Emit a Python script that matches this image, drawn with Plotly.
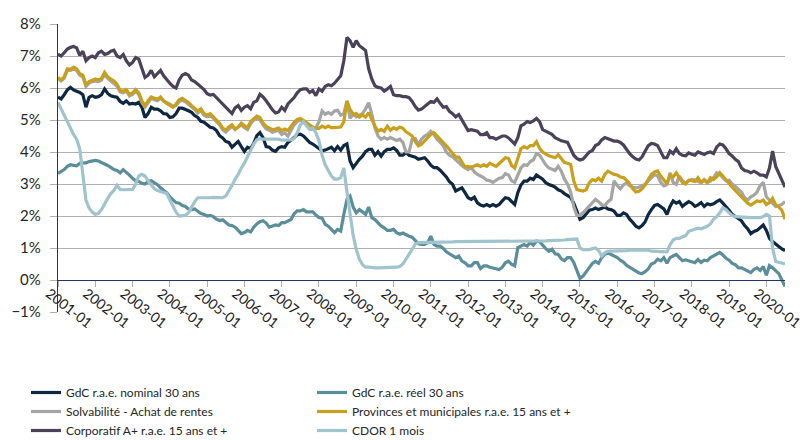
import plotly.graph_objects as go
import pandas as pd

# Monthly categories 2001-01 .. 2020-07
months = pd.date_range("2001-01-01", periods=235, freq="MS").strftime("%Y-%m").tolist()
tick_labels = ["2001-01", "2002-01", "2003-01", "2004-01", "2005-01", "2006-01", "2007-01",
               "2008-01", "2009-01", "2010-01", "2011-01", "2012-01", "2013-01", "2014-01",
               "2015-01", "2016-01", "2017-01", "2018-01", "2019-01", "2020-01"]

gdc_nominal_30 = [
    5.71, 5.66, 5.79, 5.94, 6.02, 5.94, 5.9, 5.86, 5.79, 5.4, 5.71, 5.76,
    5.71, 5.73, 5.79, 5.97, 5.83, 5.76, 5.73, 5.71, 5.58, 5.52, 5.6, 5.5,
    5.52, 5.5, 5.55, 5.4, 5.08, 5.2, 5.4, 5.34, 5.34, 5.29, 5.2, 5.19,
    5.08, 5.1, 5.2, 5.37, 5.37, 5.34, 5.29, 5.24, 5.14, 5.08, 4.96, 4.93,
    4.85, 4.77, 4.75, 4.67, 4.51, 4.44, 4.33, 4.3, 4.15, 4.25, 4.33, 4.17,
    4.02, 4.15, 4.1, 4.27, 4.51, 4.61, 4.45, 4.17, 4.15, 4.06, 4.02, 4.13,
    4.17, 4.15, 4.3, 4.37, 4.45, 4.54, 4.56, 4.5, 4.4, 4.3, 4.25, 4.17,
    4.1, 4.04, 4.06, 4.1, 4.15, 4.04, 4.17, 4.06, 4.2, 4.25, 3.72, 3.51,
    3.66, 3.77, 3.87, 4.01, 4.08, 4.08, 3.9, 4.01, 3.87, 4.01, 4.08, 4.08,
    4.13, 4.05, 3.9, 3.9, 3.98, 3.9, 3.87, 3.84, 3.77, 3.8, 3.82, 3.72,
    3.59, 3.51, 3.51, 3.43, 3.32, 3.22, 3.07, 2.99, 2.78, 2.83, 2.88, 2.73,
    2.57, 2.52, 2.59, 2.41, 2.34, 2.31, 2.36, 2.31, 2.36, 2.31, 2.36, 2.47,
    2.57, 2.55, 2.45, 2.36, 2.73, 2.97, 3.09, 3.09, 3.18, 3.14, 3.28, 3.22,
    3.15, 3.04, 2.98, 2.95, 2.9, 2.82, 2.78, 2.7, 2.65, 2.58, 2.4, 2.15,
    1.9, 1.95, 2.05, 2.18, 2.2, 2.25, 2.2, 2.25, 2.28, 2.22, 2.2, 2.15,
    2.02, 2.02, 2.1, 2.05, 1.9, 1.8, 1.68, 1.63, 1.7, 1.82, 2.05, 2.2,
    2.33, 2.36, 2.3, 2.22, 2.05, 2.3, 2.47, 2.4, 2.45, 2.3, 2.38, 2.45,
    2.4, 2.3, 2.35, 2.42, 2.3, 2.38, 2.35, 2.38, 2.45, 2.5, 2.4, 2.3,
    2.18, 2.05, 1.98, 1.9, 1.85, 1.7, 1.6, 1.45, 1.52, 1.55, 1.62, 1.72,
    1.55, 1.3, 1.2, 1.12, 1.05, 0.97, 0.92]

gdc_reel_30 = [
    3.33, 3.38, 3.45, 3.55, 3.6, 3.58, 3.57, 3.65, 3.66, 3.66, 3.7, 3.72,
    3.74, 3.72, 3.68, 3.62, 3.58, 3.52, 3.45, 3.42, 3.35, 3.45, 3.38, 3.28,
    3.18, 3.1, 3.08, 3.02, 3.0, 3.08, 3.1, 3.05, 2.98, 2.88, 2.8, 2.72,
    2.6, 2.5, 2.42, 2.4, 2.33, 2.3, 2.22, 2.2, 2.22, 2.15, 2.08, 2.05,
    2.0, 2.02, 1.98, 1.9, 1.86, 1.88, 1.8, 1.72, 1.7, 1.65, 1.55, 1.45,
    1.48, 1.55, 1.5, 1.65, 1.75, 1.82, 1.85, 1.78, 1.65, 1.68, 1.72, 1.7,
    1.79, 1.79, 1.84, 1.89, 2.07, 2.16, 2.16, 2.2, 2.13, 2.13, 2.13, 2.03,
    1.95, 1.93, 1.74, 1.68, 1.58, 1.48, 1.58, 1.53, 2.05, 2.52, 2.62, 2.28,
    2.1, 2.2, 2.13, 2.05, 2.28, 1.95, 1.89, 1.79, 1.69, 1.63, 1.55, 1.55,
    1.58, 1.48, 1.43, 1.47, 1.41, 1.37, 1.34, 1.22, 1.13, 1.11, 1.11, 1.17,
    1.37, 1.11, 1.06, 1.06, 0.99, 0.88, 0.82, 0.74, 0.7, 0.75, 0.59, 0.54,
    0.44, 0.44, 0.54, 0.54, 0.36, 0.44, 0.44, 0.4, 0.38, 0.36, 0.33, 0.4,
    0.54, 0.59, 0.49, 0.44, 1.01, 1.06, 1.11, 1.06, 1.17, 1.09, 1.22, 1.2,
    1.08, 0.98, 0.9, 0.96, 0.82, 0.8, 0.66, 0.6, 0.7, 0.7, 0.55, 0.3,
    0.05, 0.12, 0.25, 0.4, 0.52, 0.58, 0.52, 0.7, 0.8, 0.85, 0.8, 0.76,
    0.7, 0.62, 0.56, 0.46, 0.4, 0.35, 0.3, 0.22, 0.2, 0.26, 0.35, 0.5,
    0.54, 0.65, 0.6, 0.7, 0.52, 0.7, 0.75, 0.8, 0.7, 0.6, 0.63, 0.6,
    0.56, 0.54, 0.64, 0.55, 0.62, 0.6, 0.7, 0.75, 0.8, 0.86, 0.78, 0.68,
    0.62, 0.52, 0.48, 0.38, 0.38, 0.33, 0.28, 0.23, 0.33, 0.38, 0.3, 0.42,
    0.15, 0.45, 0.38, 0.28, 0.2, 0.0, -0.2]

solvabilite = [
    6.3, 6.22, 6.3, 6.55, 6.55, 6.6, 6.55, 6.4, 6.35, 6.05, 6.15, 6.2,
    6.22, 6.2, 6.25, 6.42, 6.3, 6.22, 6.15, 6.05, 5.88, 5.85, 5.9, 5.75,
    5.8, 5.9, 5.8, 5.55, 5.4, 5.55, 5.68, 5.63, 5.6, 5.68, 5.58, 5.55,
    5.5, 5.42, 5.45, 5.58, 5.62, 5.57, 5.5, 5.4, 5.33, 5.22, 5.3, 5.15,
    5.1, 5.15, 5.05, 4.95, 4.85, 4.7, 4.62, 4.72, 4.8, 4.7, 4.78, 4.85,
    4.76, 4.7, 4.88, 5.0, 5.05, 5.02, 4.85, 4.72, 4.68, 4.62, 4.65, 4.68,
    4.55, 4.6, 4.5, 4.68, 4.85, 4.95, 5.0, 4.95, 4.85, 4.8, 4.72, 4.75,
    4.95, 5.28, 5.18, 5.23, 5.18, 5.28, 5.3, 5.15, 5.2, 5.6, 5.05, 5.18,
    5.1, 5.15, 5.2, 5.35, 5.54, 5.18, 4.76, 4.5, 4.4, 4.45, 4.4, 4.45,
    4.4, 4.36, 4.4, 4.3, 4.0, 4.0, 4.4, 4.42, 4.24, 4.4, 4.5, 4.55,
    4.65, 4.55, 4.4, 4.3, 4.2, 4.0, 3.9, 3.85, 3.75, 3.68, 3.58, 3.5,
    3.45, 3.52, 3.38, 3.3, 3.25, 3.2, 3.12, 3.1, 3.05, 3.12, 3.18, 3.2,
    3.32, 3.28, 3.1, 3.05, 3.25, 3.5, 3.6, 3.58, 3.7, 3.75, 3.95, 3.9,
    3.75, 3.6, 3.5, 3.46, 3.42, 3.55, 3.4, 3.15, 3.0, 2.75, 2.3, 2.02,
    2.02, 2.1, 2.2, 2.3, 2.42, 2.52, 2.45, 2.35, 2.32, 2.45, 2.52, 3.1,
    2.95, 2.85, 2.97, 3.03, 2.95, 2.9, 2.88, 2.9, 2.95, 2.99, 3.1, 3.2,
    3.3, 3.25, 3.05, 2.94, 2.98, 3.35, 3.05, 2.99, 3.25, 3.1, 3.02, 3.1,
    3.14, 3.12, 3.09, 3.04, 3.14, 3.06, 3.09, 3.2, 3.35, 3.3, 3.2, 3.1,
    3.12, 3.0, 2.92, 2.82, 2.75, 2.57, 2.5, 2.6, 2.65, 2.75, 2.95, 3.05,
    2.6, 2.5, 2.4, 2.3, 2.32, 2.36, 2.45]

provinces_15 = [
    6.33, 6.25, 6.35, 6.6, 6.58, 6.65, 6.6, 6.45, 6.4, 6.1, 6.2, 6.25,
    6.28, 6.25, 6.3, 6.49, 6.35, 6.28, 6.22, 6.12, 5.92, 5.9, 5.95, 5.8,
    5.85, 5.95, 5.85, 5.6, 5.45, 5.6, 5.72, 5.68, 5.65, 5.72, 5.6, 5.52,
    5.45, 5.4, 5.5, 5.63, 5.68, 5.62, 5.55, 5.45, 5.38, 5.28, 5.35, 5.2,
    5.15, 5.2, 5.1, 5.0, 4.9, 4.75, 4.68, 4.78, 4.85, 4.72, 4.78, 4.9,
    4.82, 4.75, 4.95, 5.05, 5.12, 5.08, 4.9, 4.8, 4.75, 4.7, 4.72, 4.75,
    4.67, 4.72, 4.67, 4.82, 4.93, 5.02, 5.05, 4.99, 4.91, 4.84, 4.78, 4.74,
    4.74, 4.81, 4.76, 4.81, 4.76, 4.76, 4.76, 4.78, 4.95, 5.59, 5.33, 5.18,
    5.2, 5.09, 5.16, 5.09, 5.23, 4.99, 4.81, 4.65, 4.71, 4.65, 4.81, 4.68,
    4.76, 4.71, 4.78, 4.74, 4.63, 4.57, 4.5, 4.32, 4.19, 4.24, 4.34, 4.45,
    4.55, 4.6, 4.5, 4.4, 4.32, 4.19, 4.08, 3.95, 3.84, 3.84, 3.7, 3.53,
    3.55, 3.52, 3.56, 3.6, 3.55, 3.6, 3.55, 3.65, 3.6, 3.55, 3.64, 3.72,
    3.82, 3.8, 3.58, 3.5, 3.78, 4.1, 4.17, 4.12, 4.2, 4.2, 4.32, 4.12,
    4.0, 3.93, 3.88, 3.85, 3.82, 3.92, 3.8, 3.67, 3.65, 3.61, 3.1, 2.83,
    2.8, 2.78, 2.82, 3.04, 3.14, 3.1, 3.18, 3.09, 3.3, 3.4, 3.35, 3.3,
    3.28, 3.22, 3.2, 3.12, 3.0, 2.85, 2.75, 2.77, 2.85, 2.97, 3.15, 3.3,
    3.38, 3.41, 3.25, 3.12, 3.0, 3.28, 3.22, 3.35, 3.2, 3.05, 3.0, 3.12,
    3.1, 3.08, 3.2, 3.05, 3.12, 3.04, 3.2, 3.14, 3.22, 3.35, 3.25, 3.12,
    3.02, 2.9, 2.8, 2.7, 2.6, 2.5, 2.4, 2.34, 2.42, 2.47, 2.45, 2.5,
    2.36, 2.42, 2.55, 2.35, 2.28, 2.18, 1.9]

corporatif_a_plus = [
    7.06, 7.0, 7.1, 7.22, 7.27, 7.3, 7.25, 7.02, 7.15, 6.85, 6.95, 7.0,
    6.95, 7.1, 7.15, 7.05, 7.08, 7.15, 7.18, 7.0, 6.95, 7.05, 6.85, 6.72,
    6.8, 6.95, 6.9, 6.6, 6.33, 6.4, 6.55, 6.35, 6.45, 6.55, 6.38, 6.25,
    6.15, 6.05, 6.0, 6.25, 6.4, 6.45, 6.4, 6.25, 6.2, 6.12, 6.05, 5.95,
    5.82, 5.78, 5.8, 5.7, 5.62, 5.5, 5.4, 5.3, 5.2, 5.38, 5.45, 5.3,
    5.4, 5.45, 5.35, 5.55, 5.6, 5.8, 5.72, 5.6, 5.45, 5.32, 5.22, 5.25,
    5.4, 5.3, 5.5, 5.6, 5.7, 5.85, 5.95, 5.97, 5.97, 5.86, 5.92, 5.76,
    5.97, 5.9, 6.05, 6.1, 6.07, 6.15, 6.25, 6.38, 6.85, 7.58, 7.48, 7.27,
    7.48, 7.32, 7.25, 7.17, 6.6, 6.28, 6.07, 6.02, 6.0, 5.9, 5.97, 6.05,
    5.79, 5.76, 5.76, 5.73, 5.73, 5.7, 5.58, 5.42, 5.31, 5.34, 5.42, 5.5,
    5.58, 5.55, 5.66, 5.52, 5.4, 5.42, 5.27, 5.2, 5.1, 5.17, 5.0, 4.79,
    4.67, 4.7, 4.67, 4.65, 4.54, 4.54, 4.6, 4.45, 4.45, 4.4, 4.45, 4.5,
    4.5, 4.44, 4.35, 4.25, 4.45, 4.82, 4.87, 4.95, 4.92, 4.97, 5.05, 4.95,
    4.7, 4.65, 4.6, 4.55, 4.45, 4.4, 4.35, 4.33, 4.3, 4.1, 3.9, 3.8,
    3.75, 3.78, 3.9, 4.0, 4.05, 4.2, 4.25, 4.38, 4.45, 4.42, 4.38, 4.34,
    4.34, 4.3, 4.22, 4.08, 3.95, 3.85, 3.78, 3.75, 3.85, 4.03, 4.2, 4.27,
    4.25, 4.2, 4.03, 3.82, 3.82, 4.03, 3.95, 4.1, 3.95, 3.9, 3.88, 3.97,
    3.93, 3.9, 4.0, 3.95, 3.92, 3.98, 4.0, 3.95, 4.15, 4.25, 4.22, 4.1,
    3.95, 3.88, 3.77, 3.7, 3.5, 3.42, 3.4, 3.35, 3.4, 3.35, 3.28, 3.28,
    3.22, 3.5, 4.03, 3.55, 3.35, 3.12, 2.9]

cdor_1m = [
    5.55, 5.35, 5.15, 4.95, 4.7, 4.55, 4.4, 4.1, 3.3, 2.5, 2.25, 2.12,
    2.05, 2.08, 2.2, 2.4, 2.55, 2.7, 2.8, 2.96, 2.83, 2.82, 2.82, 2.82,
    2.83, 3.0, 3.25, 3.3, 3.25, 3.1, 2.98, 2.85, 2.8, 2.76, 2.74, 2.7,
    2.5, 2.3, 2.12, 2.0, 2.0, 2.02, 2.1, 2.3, 2.45, 2.57, 2.57, 2.56,
    2.55, 2.57, 2.58, 2.57, 2.56, 2.57, 2.62, 2.78, 2.95, 3.15, 3.3, 3.5,
    3.65, 3.85, 4.05, 4.25, 4.38, 4.42, 4.4, 4.4, 4.39, 4.4, 4.4, 4.4,
    4.37, 4.37, 4.37, 4.38, 4.42, 4.6, 4.85, 4.95, 4.82, 4.7, 4.75, 4.6,
    4.35, 3.9, 3.6, 3.4, 3.25, 3.15, 3.15, 3.2, 3.5, 2.75, 2.0, 1.4,
    0.95, 0.65, 0.48, 0.4, 0.4, 0.38, 0.38, 0.38, 0.38, 0.38, 0.4, 0.4,
    0.4, 0.4, 0.42, 0.5, 0.65, 0.82, 0.98, 1.12, 1.17, 1.17, 1.17, 1.18,
    1.18, 1.18, 1.18, 1.19, 1.19, 1.19, 1.19, 1.19, 1.2, 1.2, 1.2, 1.2,
    1.2, 1.2, 1.2, 1.2, 1.2, 1.2, 1.2, 1.2, 1.21, 1.21, 1.21, 1.21,
    1.21, 1.21, 1.21, 1.21, 1.21, 1.21, 1.21, 1.21, 1.22, 1.22, 1.22, 1.22,
    1.22, 1.22, 1.23, 1.23, 1.24, 1.24, 1.25, 1.25, 1.26, 1.27, 1.28, 1.28,
    1.0, 0.95, 0.95, 0.95, 0.98, 1.0, 0.92, 0.75, 0.85, 0.9, 0.9, 0.9,
    0.9, 0.9, 0.92, 0.92, 0.93, 0.93, 0.92, 0.93, 0.93, 0.93, 0.93, 0.9,
    0.9, 0.9, 0.9, 0.88, 0.88, 1.1, 1.25, 1.3, 1.3, 1.35, 1.38, 1.52,
    1.55, 1.6, 1.62, 1.6, 1.63, 1.68, 1.75, 1.9, 1.98, 2.1, 2.26, 2.2,
    2.1, 2.02, 1.98, 1.97, 1.96, 1.95, 1.95, 1.95, 1.95, 1.95, 1.95, 1.98,
    2.05, 2.0, 1.0, 0.58, 0.55, 0.52, 0.5]

series_names = ["GdC r.a.e. nominal 30 ans", "GdC r.a.e. réel 30 ans",
                "Solvabilité - Achat de rentes", "Provinces et municipales r.a.e. 15 ans et +",
                "Corporatif A+ r.a.e. 15 ans et +", "CDOR 1 mois"]
series_values = [gdc_nominal_30, gdc_reel_30, solvabilite, provinces_15, corporatif_a_plus, cdor_1m]
series_colors = ["#0E2841", "#5A8E9A", "#A5A5A5", "#C9A01C", "#4A4259", "#A0C4CD"]

fig = go.Figure()
for name, vals, col in zip(series_names, series_values, series_colors):
    fig.add_trace(go.Scatter(x=months, y=vals, mode="lines", name=name,
                             line=dict(color=col, width=3.2)))

navy = "#1F3864"
grid = "#B0B0B0"
fig.update_layout(
    template="none",
    width=811, height=440,
    margin=dict(l=50, r=34, t=16, b=136),
    plot_bgcolor="white", paper_bgcolor="white",
    font=dict(family="Lato", color="#262626"),
    xaxis=dict(type="category", range=[0, len(months) - 1], automargin=False,
               anchor="free", position=1 / 9,
               tickmode="array", tickvals=tick_labels, ticktext=tick_labels,
               ticks="outside", ticklen=6, tickcolor=grid, tickwidth=1, tickangle=38,
               tickfont=dict(size=14, color="#1a1a1a"),
               ticklabelshift=-9, ticklabelstandoff=-7,
               showline=True, linecolor=navy, linewidth=1.3,
               showgrid=False, zeroline=False),
    xaxis2=dict(overlaying="x", anchor="y", side="bottom", automargin=False,
                range=[0, len(months) - 1], showline=True, linecolor=grid,
                linewidth=1.3, showticklabels=False, ticks="",
                showgrid=False, zeroline=False),
    yaxis=dict(range=[-1, 8], dtick=1, tick0=0, ticksuffix="%", automargin=False,
               showgrid=True, gridcolor=grid, gridwidth=1.3,
               zeroline=False, showline=True, linecolor=navy, linewidth=1.3,
               ticks="outside", ticklen=7, tickcolor=grid, tickwidth=1,
               tickfont=dict(size=15, color="#262626"), ticklabelstandoff=6),
    legend=dict(orientation="h", xref="container", yref="container",
                x=18 / 811, y=1 - 370 / 440, xanchor="left", yanchor="top",
                entrywidth=241, entrywidthmode="pixels",
                font=dict(size=12, color="#262626"), itemwidth=30,
                bgcolor="rgba(0,0,0,0)", borderwidth=0),
    showlegend=True,
)

fig.write_html("out.html")
